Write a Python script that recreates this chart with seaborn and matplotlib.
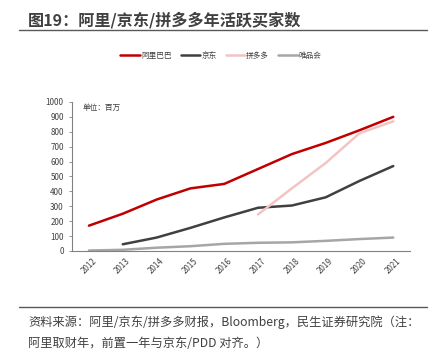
import matplotlib
matplotlib.use("Agg")
import matplotlib.pyplot as plt
import seaborn as sns
import pandas as pd
import numpy as np

# 数据（单位：百万）
years = ["2012", "2013", "2014", "2015", "2016", "2017", "2018", "2019", "2020", "2021"]
alibaba = [170, 250, 345, 420, 450, 550, 650, 725, 810, 900]
jd = [np.nan, 45, 90, 155, 225, 290, 305, 360, 470, 570]
pdd = [np.nan, np.nan, np.nan, np.nan, np.nan, 245, 420, 590, 790, 870]
vip = [3, 8, 22, 32, 48, 55, 58, 68, 80, 90]
series_names = ["阿里巴巴", "京东", "拼多多", "唯品会"]
colors = ["#C00000", "#404040", "#F2C4C4", "#A6A6A6"]

sns.set_style("white")
plt.rcParams["font.family"] = ["Noto Sans CJK SC", "DejaVu Sans"]

df = pd.DataFrame({"idx": range(len(years)),
                   "阿里巴巴": alibaba, "京东": jd, "拼多多": pdd, "唯品会": vip})
long = df.melt(id_vars="idx", var_name="平台", value_name="值").dropna()

fig = plt.figure(figsize=(4.42, 3.54), dpi=100)
ax = fig.add_axes([0.163, 0.291, 0.765, 0.421])

sns.lineplot(data=long, x="idx", y="值", hue="平台", hue_order=series_names,
             palette=colors, linewidth=1.8, ax=ax, legend=False)

ax.set_xlim(-0.5, len(years) - 0.5)
ax.set_ylim(0, 1000)
ax.set_yticks(range(0, 1001, 100))
ax.set_xticks(range(len(years)))
ax.set_xticklabels(years, rotation=45, fontsize=5.8, color="#404040")
ax.set_xticks(np.arange(-0.5, len(years), 1), minor=True)
ax.tick_params(axis="x", which="major", length=0, pad=4)
ax.tick_params(axis="x", which="minor", length=3, color="#808080", width=0.6)
ax.tick_params(axis="y", length=2.5, color="#808080", width=0.6, labelsize=5.8,
               labelcolor="#404040", left=True)
for lab in ax.get_xticklabels():
    lab.set_ha("center")
ax.set_xlabel("")
ax.set_ylabel("")
for s in ["top", "right"]:
    ax.spines[s].set_visible(False)
for s in ["left", "bottom"]:
    ax.spines[s].set_color("#808080")
    ax.spines[s].set_linewidth(0.8)
ax.text(0.03, 0.985, "单位：百万", transform=ax.transAxes, fontsize=5.5,
        color="#404040", va="top")

# 图例
handles = [plt.Line2D([], [], color=c, lw=1.8) for c in colors]
fig.legend(handles, series_names, loc="center", bbox_to_anchor=(0.5, 0.842),
           ncol=4, frameon=False, fontsize=5.5, handlelength=2.6,
           handletextpad=0.1, columnspacing=1.2, labelcolor="#404040")

# 标题与来源
fig.text(0.064, 0.944, "图19：阿里/京东/拼多多年活跃买家数", fontsize=11.6,
         fontweight="bold", color="#404040", va="center")
fig.add_artist(plt.Line2D([0.043, 0.965], [0.915, 0.915], color="#595959", lw=1.0))
fig.add_artist(plt.Line2D([0.043, 0.965], [0.133, 0.133], color="#595959", lw=1.0))
fig.text(0.064, 0.09, "资料来源：阿里/京东/拼多多财报，Bloomberg，民生证券研究院（注：",
         fontsize=8.8, color="#404040", va="center")
fig.text(0.064, 0.03, "阿里取财年，前置一年与京东/PDD 对齐。）",
         fontsize=8.8, color="#404040", va="center")

fig.savefig("out.png", dpi=100)
